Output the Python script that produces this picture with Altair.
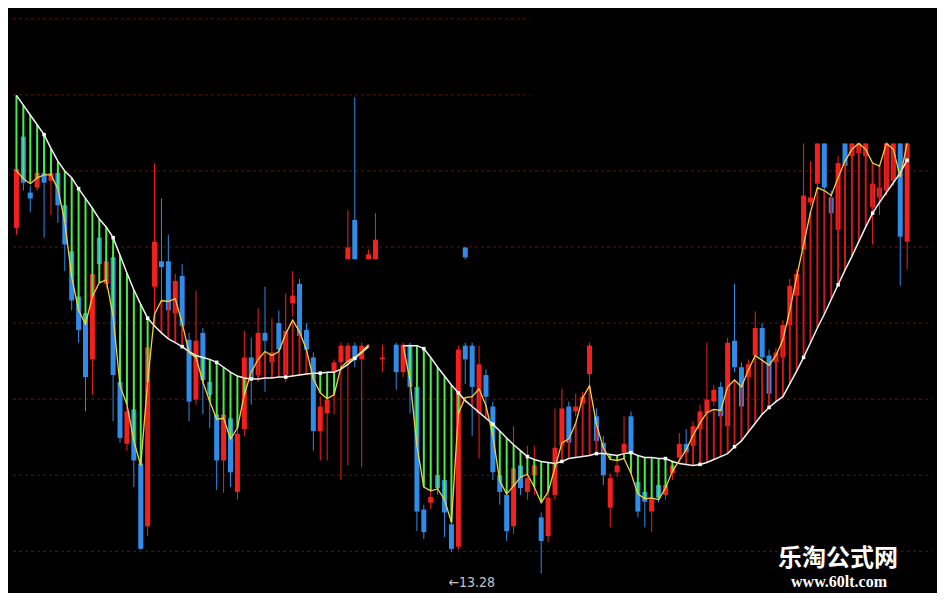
import altair as alt
import pandas as pd

# ---------------- data (prices) ----------------
idx = list(range(130))

open_ = [16.58, 17.51, 16.94, 16.99, 17.14, 17.06, 17.14, 16.81, 16.34, 15.88,
         15.71, 15.24, 16.48, 16.01, 16.28, 15.01, 14.38, 14.73, 14.18, 13.54,
         15.98, 16.24, 16.24, 15.71, 16.09, 15.44, 14.83, 15.51, 15.01, 14.68,
         14.21, 14.64, 13.89, 14.53, 15.26, 15.08, 15.51, 15.21, 15.61, 15.08,
         15.81, 16.01, 15.54, 15.26, 14.51, 14.69, 15.11, 15.21, 15.21, 15.38,
         15.24, None, None, 15.24, None, 15.39, 15.11, 15.39, 14.96, 13.71,
         13.78, 14.06, 14.01, 13.56, 13.33, 15.38, 15.38, 14.69, 15.08, 14.76,
         14.06, 13.86, 13.54, 14.16, 13.89, 14.06, 13.63, 13.44, 13.86, 14.36,
         14.76, 14.71, 14.79, 15.09, 14.66, 14.39, 13.73, 14.09, 14.29, 14.66,
         13.99, 13.89, 13.69, 13.96, 13.86, 14.08, 14.24, 14.38, 14.36, 14.53,
         14.69, 14.81, 14.96, 14.56, 15.43, 15.16, 15.06, 15.28, 15.56, 15.28,
         15.21, 15.26, 15.59, 15.89, 16.36, 16.84, 17.03, 17.44, 16.89, 16.56,
         17.44, 17.31, 17.34, 17.31, 16.79, 16.89, 16.96, 17.06, 17.44, 16.44]

close = [17.18, 17.04, 16.88, 17.14, 17.04, 17.14, 16.81, 16.41, 15.84, 15.54,
         15.06, 16.11, 16.21, 16.24, 15.08, 14.44, 14.71, 14.21, 13.31, 15.36,
         16.44, 16.18, 15.74, 16.04, 15.58, 14.81, 15.43, 15.03, 14.88, 14.21,
         14.68, 14.09, 14.48, 15.26, 15.04, 15.51, 15.43, 15.31, 15.34, 15.53,
         15.89, 15.48, 15.34, 14.51, 14.76, 14.83, 15.21, 15.38, 15.38, 15.24,
         15.38, None, None, 15.26, None, 15.11, 15.39, 14.96, 13.69, 13.48,
         13.84, 13.93, 13.68, 13.31, 15.34, 15.24, 14.96, 15.19, 14.86, 14.09,
         13.89, 13.49, 14.13, 13.93, 14.03, 14.16, 13.39, 13.83, 14.34, 14.74,
         14.39, 14.76, 14.86, 15.38, 14.41, 14.06, 14.03, 14.16, 14.38, 14.29,
         13.69, 13.79, 13.83, 13.83, 13.96, 14.16, 14.38, 14.29, 14.56, 14.71,
         14.83, 14.93, 14.66, 15.41, 15.16, 14.76, 15.19, 15.56, 15.26, 14.89,
         15.31, 15.59, 15.99, 16.11, 16.91, 16.89, 17.44, 16.99, 16.73, 17.24,
         17.21, 17.44, 17.44, 17.44, 17.03, 16.99, 17.44, 17.44, 16.49, 17.44]

high = [17.26, 17.56, 17.01, 17.26, 17.21, 17.21, 17.21, 16.86, 16.41, 15.96,
        15.78, 16.18, 16.54, 16.31, 16.34, 15.06, 14.76, 14.78, 14.24, 15.41,
        17.24, 16.88, 16.51, 16.11, 16.21, 15.51, 15.94, 15.56, 15.08, 14.76,
        14.74, 14.71, 14.56, 15.53, 15.46, 15.76, 15.98, 15.66, 15.74, 15.91,
        16.14, 16.06, 15.61, 15.31, 14.86, 15.06, 15.24, 15.41, 15.41, 15.41,
        15.41, None, None, 15.39, None, 15.41, 15.41, 15.41, 15.01, 13.76,
        13.91, 14.11, 14.06, 13.61, 15.38, 15.41, 15.41, 15.38, 15.14, 14.81,
        14.11, 13.91, 14.56, 14.29, 14.36, 14.36, 13.68, 13.88, 14.74, 14.94,
        14.81, 14.89, 14.91, 15.41, 14.74, 14.46, 14.08, 14.21, 14.66, 14.71,
        14.04, 13.94, 13.88, 14.01, 14.01, 14.21, 14.49, 14.53, 14.61, 14.78,
        15.41, 14.98, 15.01, 15.46, 16.01, 15.21, 15.24, 15.73, 15.61, 15.34,
        15.36, 15.64, 16.06, 16.16, 17.44, 17.26, 17.44, 17.44, 16.96, 17.31,
        17.44, 17.44, 17.44, 17.44, 17.08, 17.04, 17.44, 17.44, 17.44, 17.44]

low = [16.51, 16.96, 16.74, 16.96, 16.48, 16.71, 16.63, 16.14, 15.74, 15.41,
       14.71, 14.88, 16.16, 15.96, 14.61, 14.39, 14.31, 13.94, 13.30, 13.44,
       15.68, 15.84, 15.66, 15.56, 15.51, 14.61, 14.78, 14.68, 14.54, 13.91,
       13.88, 13.94, 13.81, 14.46, 14.78, 15.01, 14.91, 15.06, 15.26, 15.01,
       15.68, 15.41, 15.11, 14.31, 14.21, 14.21, 14.68, 14.01, 14.16, 15.16,
       14.14, None, None, 15.11, None, 14.93, 15.06, 14.69, 13.49, 13.41,
       13.71, 13.86, 13.43, 13.28, 13.30, 14.99, 14.46, 14.23, 14.76, 14.01,
       13.76, 13.39, 13.46, 13.86, 13.81, 13.86, 13.06, 13.38, 13.81, 14.31,
       14.26, 14.66, 14.71, 14.26, 14.36, 13.96, 13.53, 14.04, 14.24, 14.24,
       13.63, 13.53, 13.48, 13.78, 13.81, 14.01, 14.18, 14.24, 14.31, 14.48,
       14.64, 14.76, 14.53, 14.51, 15.11, 14.71, 15.01, 15.24, 15.21, 14.84,
       15.16, 15.21, 15.54, 15.84, 16.31, 16.81, 16.98, 16.94, 16.68, 16.51,
       17.16, 17.26, 17.21, 17.26, 16.41, 16.71, 16.91, 17.01, 15.99, 16.16]

# fast (yellow) and slow (white) moving averages
fast = [17.16, 17.08, 17.03, 17.09, 17.12, 17.12, 16.98, 16.64, 16.08, 15.74,
        15.60, 15.88, 16.02, 16.05, 15.68, 14.97, 14.78, 14.41, 14.16, 15.01,
        15.70, 15.84, 15.83, 15.86, 15.61, 15.31, 15.26, 15.01, 14.81, 14.63,
        14.64, 14.43, 14.54, 14.88, 15.11, 15.24, 15.32, 15.28, 15.32, 15.50,
        15.64, 15.52, 15.34, 15.04, 14.90, 14.84, 14.88, 15.16, 15.22, 15.26,
        15.32, 15.39, None, None, None, None, 15.38, 15.03, 14.36, 13.94,
        13.90, 13.92, 13.81, 13.58, 14.69, 14.85, 14.86, 14.94, 14.77, 14.46,
        14.00, 13.87, 13.95, 14.04, 14.07, 13.94, 13.78, 13.89, 14.14, 14.39,
        14.43, 14.59, 14.85, 14.97, 14.58, 14.34, 14.22, 14.21, 14.23, 14.08,
        13.87, 13.82, 13.83, 13.81, 13.93, 14.10, 14.21, 14.32, 14.47, 14.59,
        14.70, 14.73, 14.72, 14.96, 15.03, 14.96, 15.13, 15.28, 15.23, 15.18,
        15.28, 15.44, 15.74, 16.08, 16.41, 16.74, 16.99, 16.96, 16.91, 17.09,
        17.26, 17.38, 17.44, 17.38, 17.24, 17.21, 17.44, 17.38, 17.10, 17.44]

slow = [17.93, 17.83, 17.73, 17.63, 17.53, 17.39, 17.26, 17.16, 17.09, 16.98,
        16.88, 16.78, 16.67, 16.59, 16.48, 16.30, 16.12, 15.95, 15.80, 15.66,
        15.58, 15.51, 15.45, 15.41, 15.37, 15.32, 15.28, 15.26, 15.24, 15.21,
        15.16, 15.11, 15.07, 15.05, 15.04, 15.04, 15.05, 15.05, 15.06, 15.06,
        15.07, 15.08, 15.09, 15.10, 15.10, 15.11, 15.11, 15.14, 15.19, 15.25,
        15.31, 15.37, None, None, None, None, 15.38, 15.38, 15.38, 15.35,
        15.26, 15.16, 15.07, 14.98, 14.90, 14.82, 14.76, 14.70, 14.64, 14.58,
        14.51, 14.44, 14.37, 14.31, 14.25, 14.22, 14.20, 14.19, 14.18, 14.20,
        14.23, 14.24, 14.25, 14.26, 14.28, 14.28, 14.27, 14.26, 14.28, 14.29,
        14.26, 14.24, 14.24, 14.23, 14.23, 14.20, 14.18, 14.17, 14.16, 14.17,
        14.19, 14.22, 14.25, 14.28, 14.35, 14.41, 14.50, 14.59, 14.68, 14.75,
        14.81, 14.86, 14.99, 15.12, 15.26, 15.41, 15.56, 15.70, 15.85, 16.00,
        16.15, 16.29, 16.44, 16.59, 16.73, 16.84, 16.94, 17.04, 17.14, 17.27]

# stray candles drawn higher up in the screenshot
ghost_idx = [48, 49, 51, 52, 65]
ghost_open = [16.26, 16.66, 16.26, 16.26, 16.38]
ghost_close = [16.38, 16.26, 16.31, 16.46, 16.28]
ghost_high = [16.76, 17.91, 16.36, 16.73, 16.38]
ghost_low = [16.26, 16.26, 16.26, 16.26, 16.26]

grid_levels = [18.71, 17.935, 17.16, 16.385, 15.61, 14.835, 14.06, 13.285]
grid_end = [74.4, 74.4, 132.6, 132.6, 132.6, 132.6, 132.6, 132.6]

low_label = "←13.28"
low_label_idx = 63
brand = "乐淘公式网"
site = "www.60lt.com"

# ---------------- styling ----------------
W, H = 929, 585
UP = "#f2211d"
DOWN = "#2f8ce8"
HATCH_UP = "#cc181c"
HATCH_DN = "#46ee46"
FAST_C = "#f3cf45"
SLOW_C = "#f2f2f2"
GRID_C = "#6a0e0e"

xscale = alt.Scale(domain=[-0.5, 132.6], nice=False, zero=False)
yscale = alt.Scale(domain=[12.86, 18.82], nice=False, zero=False)

df = pd.DataFrame({"i": idx, "open": open_, "high": high, "low": low,
                   "close": close, "fast": fast, "slow": slow})
df["seg"] = ["A" if i <= 51 else "B" for i in idx]
df["ccol"] = [UP if (pd.notna(o) and c >= o) else DOWN for o, c in zip(df["open"], df["close"])]
df["hcol"] = [HATCH_UP if (pd.notna(f) and pd.notna(s) and f >= s) else HATCH_DN
              for f, s in zip(df["fast"], df["slow"])]

gdf = pd.DataFrame({"i": ghost_idx, "open": ghost_open, "close": ghost_close,
                    "high": ghost_high, "low": ghost_low})
gdf["ccol"] = [UP if c >= o else DOWN for o, c in zip(gdf["open"], gdf["close"])]

griddf = pd.DataFrame({"level": grid_levels, "x0": [-0.5] * len(grid_levels), "x1": grid_end})

X = alt.X("i:Q", scale=xscale, axis=None)

grid = alt.Chart(griddf).mark_rule(color=GRID_C, strokeDash=[3, 3], strokeWidth=1).encode(
    x=alt.X("x0:Q", scale=xscale, axis=None), x2="x1:Q",
    y=alt.Y("level:Q", scale=yscale, axis=None))

base = alt.Chart(df).transform_filter("isValid(datum.open)")
wick = base.mark_rule(strokeWidth=1).encode(
    x=X, y=alt.Y("low:Q", scale=yscale, axis=None), y2="high:Q",
    color=alt.Color("ccol:N", scale=None))
body = base.mark_bar(size=5).encode(
    x=X, y=alt.Y("open:Q", scale=yscale, axis=None), y2="close:Q",
    color=alt.Color("ccol:N", scale=None))

gbase = alt.Chart(gdf)
gwick = gbase.mark_rule(strokeWidth=1).encode(
    x=X, y=alt.Y("low:Q", scale=yscale, axis=None), y2="high:Q",
    color=alt.Color("ccol:N", scale=None))
gbody = gbase.mark_bar(size=5).encode(
    x=X, y=alt.Y("open:Q", scale=yscale, axis=None), y2="close:Q",
    color=alt.Color("ccol:N", scale=None))

mabase = alt.Chart(df).transform_filter("isValid(datum.fast) && isValid(datum.slow)")
hatch = mabase.mark_rule(strokeWidth=2, opacity=1).encode(
    x=X, y=alt.Y("fast:Q", scale=yscale, axis=None), y2="slow:Q",
    color=alt.Color("hcol:N", scale=None))
slow_line = mabase.mark_line(color=SLOW_C, strokeWidth=1.5).encode(
    x=X, y=alt.Y("slow:Q", scale=yscale, axis=None), detail="seg:N")
fast_line = mabase.mark_line(color=FAST_C, strokeWidth=1.3).encode(
    x=X, y=alt.Y("fast:Q", scale=yscale, axis=None), detail="seg:N")
dots = mabase.transform_filter("datum.i % 5 == 4").mark_square(
    size=12, color="#ffffff", opacity=1).encode(
    x=X, y=alt.Y("slow:Q", scale=yscale, axis=None))

lowtxt = alt.Chart(pd.DataFrame({"i": [low_label_idx], "t": [low_label]})).mark_text(
    align="left", baseline="middle", dx=-3, fontSize=14, color="#c4c4c4",
    font="Liberation Sans Narrow, DejaVu Sans Condensed, sans-serif").encode(
    x=X, y=alt.value(575), text="t:N")

brand_txt = alt.Chart(pd.DataFrame({"t": [brand]})).mark_text(
    align="center", baseline="middle", fontSize=24, fontWeight="bold", color="#ffffff",
    font="Noto Sans CJK SC").encode(x=alt.value(830), y=alt.value(551), text="t:N")
site_txt = alt.Chart(pd.DataFrame({"t": [site]})).mark_text(
    align="center", baseline="middle", fontSize=16, fontWeight="bold", color="#ffffff",
    font="Liberation Serif, DejaVu Serif, serif").encode(x=alt.value(831), y=alt.value(574), text="t:N")

chart = alt.layer(
    grid, wick, body, gwick, gbody, hatch, slow_line, fast_line, dots,
    lowtxt, brand_txt, site_txt
).properties(
    width=W, height=H, background="#000000", padding=0,
    autosize=alt.AutoSizeParams(type="none")
).configure_view(stroke=None)

chart.save("out.html", embed_options={"renderer": "svg", "actions": False})
